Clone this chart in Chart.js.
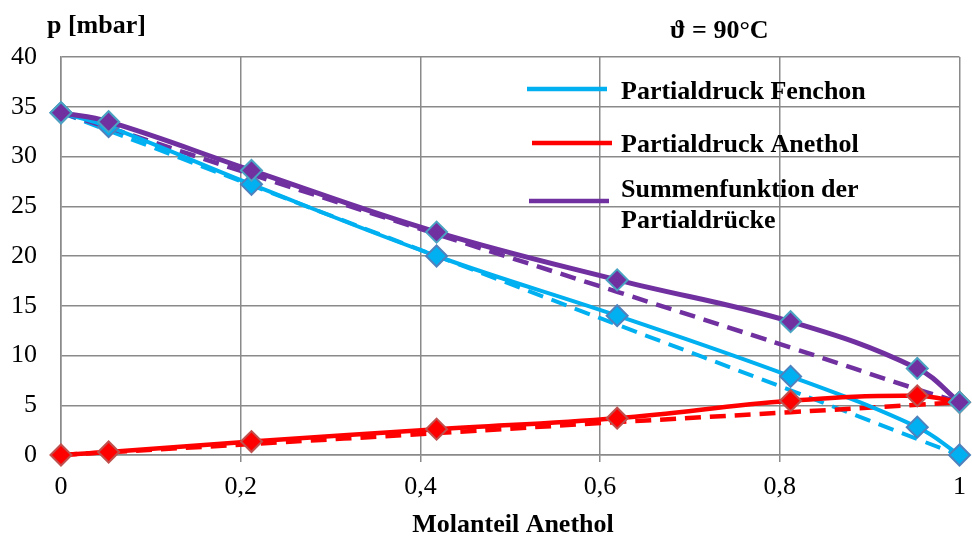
<!DOCTYPE html>
<html>
<head>
<meta charset="utf-8">
<script src="https://cdn.jsdelivr.net/npm/chart.js@4"></script>
<style>
  html, body { margin: 0; padding: 0; background: #fff; }
  #wrap { width: 972px; height: 536px; }
</style>
</head>
<body>
<div id="wrap"><canvas id="myChart" width="972" height="536"></canvas></div>
<script>
// Molanteil Anethol (x)
const molanteil = [0, 0.053, 0.212, 0.418, 0.619, 0.812, 0.953, 1];
// gemessene Partialdruecke [mbar]
const fenchon = [34.4, 33.0, 27.2, 20.0, 14.0, 7.9, 2.8, 0];
const anethol = [0, 0.3, 1.35, 2.6, 3.7, 5.45, 5.95, 5.3];
const summe = [34.4, 33.5, 28.6, 22.4, 17.6, 13.4, 8.7, 5.3];
// ideale Verlaeufe (gestrichelt)
const fenchonIdeal = [34.4, 32.6, 27.1, 20.0, 13.1, 6.5, 1.6, 0];
const anetholIdeal = [0, 0.28, 1.1, 2.2, 3.3, 4.3, 5.05, 5.3];
const summeIdeal = [34.4, 32.9, 28.2, 22.2, 16.4, 10.8, 6.6, 5.3];

const legendLabels = ['Partialdruck Fenchon', 'Partialdruck Anethol', ['Summenfunktion der', 'Partialdrücke']];

const BLUE = '#00b0f0', RED = '#ff0000', PURPLE = '#7030a0';
const GRID = '#8a8a8a';
const FONT = '"Liberation Serif", "Times New Roman", serif';

function pts(ys) {
    return molanteil.map((x, i) => ({ x: x, y: ys[i] }));
}

function solid(label, ys, color, width, ptBorder) {
    return {
        label: label,
        data: pts(ys),
        borderColor: color,
        backgroundColor: color,
        borderWidth: width,
        tension: 0.4,
        clip: false,
        pointStyle: 'rectRot',
        pointRadius: 10.5,
        pointBackgroundColor: color,
        pointBorderColor: ptBorder,
        pointBorderWidth: 2
    };
}

function dashed(label, ys, color, width) {
    return {
        label: label,
        data: pts(ys),
        borderColor: color,
        borderWidth: width,
        borderDash: [16, 9],
        tension: 0.4,
        clip: false,
        pointRadius: 0
    };
}

// Beschriftung + Legende selbst zeichnen
const textPlugin = {
    id: 'texts',
    afterDraw(chart) {
        const ctx = chart.ctx;
        ctx.save();
        ctx.fillStyle = '#000';
        ctx.textBaseline = 'alphabetic';
        ctx.font = 'bold 26px ' + FONT;
        ctx.textAlign = 'left';
        ctx.fillText('p [mbar]', 47, 33);
        ctx.fillText('ϑ = 90°C', 670, 38);
        ctx.textAlign = 'center';
        ctx.fillText('Molanteil Anethol', 513, 532);

        // Legende
        const items = [
            { color: BLUE, x0: 527, y: 89, base: [99] },
            { color: RED, x0: 532, y: 143, base: [152] },
            { color: PURPLE, x0: 529, y: 201, base: [197, 228] }
        ];
        ctx.textAlign = 'left';
        items.forEach((it, i) => {
            ctx.strokeStyle = it.color;
            ctx.lineWidth = 4.5;
            ctx.beginPath();
            ctx.moveTo(it.x0, it.y);
            ctx.lineTo(it.x0 + 80, it.y);
            ctx.stroke();
            const lines = Array.isArray(legendLabels[i]) ? legendLabels[i] : [legendLabels[i]];
            lines.forEach((t, j) => ctx.fillText(t, 621, it.base[j]));
        });
        ctx.restore();
    }
};

const ctx = document.getElementById('myChart').getContext('2d');
const myChart = new Chart(ctx, {
    type: 'line',
    data: {
        datasets: [
            solid('Summenfunktion der Partialdrücke', summe, PURPLE, 5, '#4aa3c2'),
            solid('Partialdruck Anethol', anethol, RED, 4.5, '#c0504d'),
            solid('Partialdruck Fenchon', fenchon, BLUE, 4, '#4f81bd'),
            dashed('Summe ideal', summeIdeal, PURPLE, 4.5),
            dashed('Anethol ideal', anetholIdeal, RED, 4.5),
            dashed('Fenchon ideal', fenchonIdeal, BLUE, 4)
        ]
    },
    options: {
        responsive: false,
        animation: false,
        layout: { padding: { left: 0, right: 3, top: 57, bottom: 0 } },
        plugins: {
            legend: { display: false },
            tooltip: { enabled: false }
        },
        scales: {
            x: {
                type: 'linear',
                min: 0,
                max: 1,
                afterFit: (s) => { s.height = 81; s.paddingLeft = 0; s.paddingRight = 0; },
                ticks: {
                    stepSize: 0.2,
                    padding: 10,
                    color: '#000',
                    font: { family: FONT, size: 26 },
                    callback: (v) => {
                        if (v === 0) return '0';
                        if (Math.abs(v - 1) < 1e-9) return '1';
                        return v.toFixed(1).replace('.', ',');
                    }
                },
                grid: { color: GRID, lineWidth: 1.5, tickLength: 7, drawTicks: true },
                border: { color: GRID, width: 1.5 }
            },
            y: {
                min: 0,
                max: 40,
                afterFit: (s) => { s.width = 61; s.paddingTop = 0; s.paddingBottom = 0; },
                ticks: {
                    stepSize: 5,
                    padding: 24,
                    color: '#000',
                    font: { family: FONT, size: 26 }
                },
                grid: { color: GRID, lineWidth: 1.5, drawTicks: false },
                border: { color: GRID, width: 1.5 }
            }
        }
    },
    plugins: [textPlugin]
});
</script>
</body>
</html>
